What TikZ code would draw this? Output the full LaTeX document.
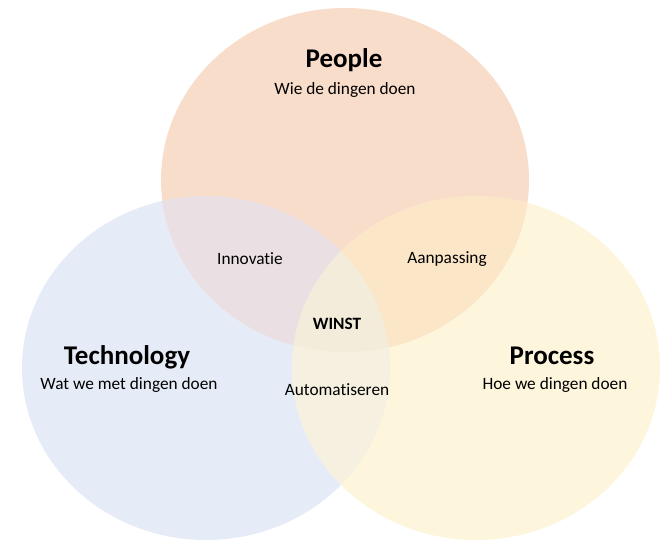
\documentclass[tikz,border=0pt]{standalone}
\usepackage{fontspec}
\setmainfont{Carlito}[Ligatures=NoCommon]
\usepackage{tikz}
\usetikzlibrary{positioning, shapes}
\definecolor{peoplecol}{RGB}{249,221,203}
\definecolor{techcol}{RGB}{230,236,247}
\definecolor{proccol}{RGB}{254,245,221}
\definecolor{ptcol}{RGB}{234,224,228}
\definecolor{ppcol}{RGB}{252,230,200}
\definecolor{tpcol}{RGB}{245,240,224}
\definecolor{allcol}{RGB}{243,236,218}
\newcommand{\peoplepath}{(345,180) ellipse [x radius=184pt, y radius=172pt]}
\newcommand{\techpath}{(206,368) ellipse [x radius=184pt, y radius=172pt]}
\newcommand{\procpath}{(476,368) ellipse [x radius=184pt, y radius=172pt]}
\tikzset{
    % titles of the three sets
    settitle/.style={
           font=\bfseries\fontsize{27}{30}\selectfont,
           inner sep=0pt},
    % subtitles
    setsub/.style={
           font=\fontsize{17.3}{20}\selectfont,
           inner sep=0pt},
    % labels of the overlaps
    overlap/.style={
           font=\fontsize{17.3}{20}\selectfont,
           inner sep=0pt}
}
\begin{document}
\begin{tikzpicture}[x=1pt,y=-1pt]
  \useasboundingbox (0,0) rectangle (662,542);
  % the three sets
  \fill[techcol] \techpath;
  \fill[proccol] \procpath;
  \fill[peoplecol] \peoplepath;
  % overlaps
  \begin{scope}
    \clip \peoplepath;
    \fill[ptcol] \techpath;
    \fill[ppcol] \procpath;
  \end{scope}
  \begin{scope}
    \clip \techpath;
    \fill[tpcol] \procpath;
    \clip \procpath;
    \fill[allcol] \peoplepath;
  \end{scope}
  % texts
  \node[settitle] (people) at (344,60) {People};
  \node[setsub] (peoplesub) at (345,90) {Wie de dingen doen};
  \node[settitle] (tech) at (127,357) {Technology};
  \node[setsub] (techsub) at (129,385) {Wat we met dingen doen};
  \node[settitle] (proc) at (552,356) {Process};
  \node[setsub] (procsub) at (555,385) {Hoe we dingen doen};
  \node[overlap] (innov) at (250,259) {Innovatie};
  \node[overlap] (aanp) at (447,259) {Aanpassing};
  \node[overlap, font=\bfseries\fontsize{17.3}{20}\selectfont] (winst) at (337,324) {WINST};
  \node[overlap] (autom) at (337,390) {Automatiseren};
\end{tikzpicture}
\end{document}
